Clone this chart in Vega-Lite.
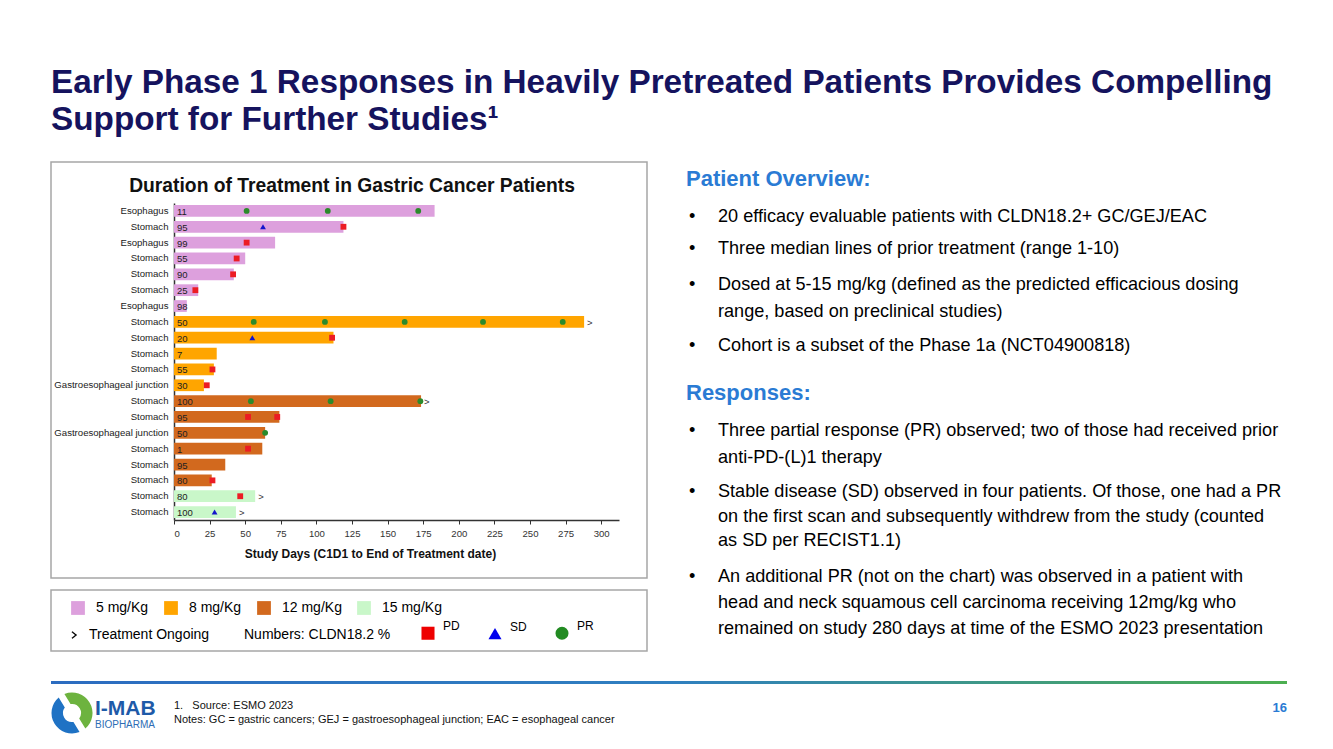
{
  "$schema": "https://vega.github.io/schema/vega-lite/v6.json",
  "padding": {"left": 50, "top": 65, "right": 47, "bottom": 10},
  "background": "white",
  "title": {
    "text": ["Early Phase 1 Responses in Heavily Pretreated Patients Provides Compelling", "Support for Further Studies¹"],
    "anchor": "start", "frame": "group", "fontSize": 33.3, "fontWeight": "bold", "color": "#15135e", "lineHeight": 37, "offset": 24
  },
  "config": {
    "font": "Liberation Sans",
    "view": {"stroke": null},
    "legend": {"padding": 0, "labelFont": "Liberation Sans", "titleFont": "Liberation Sans"},
    "axis": {"labelFont": "Liberation Sans", "titleFont": "Liberation Sans"}
  },
  "datasets": {
    "patients": [
      {"key": "01|Esophagus", "cldn": 11, "dose": "5 mg/Kg", "days": 183, "ongoing": false},
      {"key": "02|Stomach", "cldn": 95, "dose": "5 mg/Kg", "days": 119, "ongoing": false},
      {"key": "03|Esophagus", "cldn": 99, "dose": "5 mg/Kg", "days": 71, "ongoing": false},
      {"key": "04|Stomach", "cldn": 55, "dose": "5 mg/Kg", "days": 50, "ongoing": false},
      {"key": "05|Stomach", "cldn": 90, "dose": "5 mg/Kg", "days": 42, "ongoing": false},
      {"key": "06|Stomach", "cldn": 25, "dose": "5 mg/Kg", "days": 17, "ongoing": false},
      {"key": "07|Esophagus", "cldn": 98, "dose": "5 mg/Kg", "days": 9, "ongoing": false},
      {"key": "08|Stomach", "cldn": 50, "dose": "8 mg/Kg", "days": 288, "ongoing": true},
      {"key": "09|Stomach", "cldn": 20, "dose": "8 mg/Kg", "days": 112, "ongoing": false},
      {"key": "10|Stomach", "cldn": 7, "dose": "8 mg/Kg", "days": 30, "ongoing": false},
      {"key": "11|Stomach", "cldn": 55, "dose": "8 mg/Kg", "days": 28, "ongoing": false},
      {"key": "12|Gastroesophageal junction", "cldn": 30, "dose": "8 mg/Kg", "days": 21, "ongoing": false},
      {"key": "13|Stomach", "cldn": 100, "dose": "12 mg/Kg", "days": 173.5, "ongoing": true},
      {"key": "14|Stomach", "cldn": 95, "dose": "12 mg/Kg", "days": 74, "ongoing": false},
      {"key": "15|Gastroesophageal junction", "cldn": 50, "dose": "12 mg/Kg", "days": 64, "ongoing": false},
      {"key": "16|Stomach", "cldn": 1, "dose": "12 mg/Kg", "days": 62, "ongoing": false},
      {"key": "17|Stomach", "cldn": 95, "dose": "12 mg/Kg", "days": 36, "ongoing": false},
      {"key": "18|Stomach", "cldn": 80, "dose": "12 mg/Kg", "days": 26.5, "ongoing": false},
      {"key": "19|Stomach", "cldn": 80, "dose": "15 mg/Kg", "days": 57, "ongoing": true},
      {"key": "20|Stomach", "cldn": 100, "dose": "15 mg/Kg", "days": 43.5, "ongoing": true}
    ],
    "events": [
      {"key": "01|Esophagus", "day": 51, "type": "PR"},
      {"key": "01|Esophagus", "day": 108, "type": "PR"},
      {"key": "01|Esophagus", "day": 171.5, "type": "PR"},
      {"key": "02|Stomach", "day": 62.5, "type": "SD"},
      {"key": "02|Stomach", "day": 119, "type": "PD"},
      {"key": "03|Esophagus", "day": 51, "type": "PD"},
      {"key": "04|Stomach", "day": 44, "type": "PD"},
      {"key": "05|Stomach", "day": 41.5, "type": "PD"},
      {"key": "06|Stomach", "day": 15, "type": "PD"},
      {"key": "08|Stomach", "day": 56, "type": "PR"},
      {"key": "08|Stomach", "day": 106, "type": "PR"},
      {"key": "08|Stomach", "day": 162, "type": "PR"},
      {"key": "08|Stomach", "day": 217, "type": "PR"},
      {"key": "08|Stomach", "day": 273, "type": "PR"},
      {"key": "09|Stomach", "day": 55, "type": "SD"},
      {"key": "09|Stomach", "day": 111, "type": "PD"},
      {"key": "11|Stomach", "day": 27, "type": "PD"},
      {"key": "12|Gastroesophageal junction", "day": 23, "type": "PD"},
      {"key": "13|Stomach", "day": 54, "type": "PR"},
      {"key": "13|Stomach", "day": 110, "type": "PR"},
      {"key": "13|Stomach", "day": 173, "type": "PR"},
      {"key": "14|Stomach", "day": 52, "type": "PD"},
      {"key": "14|Stomach", "day": 72.5, "type": "PD"},
      {"key": "15|Gastroesophageal junction", "day": 64, "type": "PR"},
      {"key": "16|Stomach", "day": 52, "type": "PD"},
      {"key": "18|Stomach", "day": 27, "type": "PD"},
      {"key": "19|Stomach", "day": 46.5, "type": "PD"},
      {"key": "20|Stomach", "day": 28.5, "type": "SD"}
    ],
    "panel": [
      {"para": 0, "text": "Patient Overview:"},
      {"para": 1, "text": "20 efficacy evaluable patients with CLDN18.2+ GC/GEJ/EAC"},
      {"para": 2, "text": "Three median lines of prior treatment (range 1-10)"},
      {"para": 3, "text": ["Dosed at 5-15 mg/kg (defined as the predicted efficacious dosing", "range, based on preclinical studies)"]},
      {"para": 4, "text": "Cohort is a subset of the Phase 1a (NCT04900818)"},
      {"para": 5, "text": "Responses:"},
      {"para": 6, "text": ["Three partial response (PR) observed; two of those had received prior", "anti-PD-(L)1 therapy"]},
      {"para": 7, "text": ["Stable disease (SD) observed in four patients. Of those, one had a PR", "on the first scan and subsequently withdrew from the study (counted", "as SD per RECIST1.1)"]},
      {"para": 8, "text": ["An additional PR (not on the chart) was observed in a patient with", "head and neck squamous cell carcinoma receiving 12mg/kg who", "remained on study 280 days at time of the ESMO 2023 presentation"]}
    ],
    "footer": [
      {"part": "brand", "text": "I-MAB"},
      {"part": "sub", "text": "BIOPHARMA"},
      {"part": "source", "text": "1.\u00a0\u00a0\u00a0Source: ESMO 2023"},
      {"part": "notes", "text": "Notes: GC = gastric cancers; GEJ = gastroesophageal junction; EAC = esophageal cancer"},
      {"part": "page", "text": "16"}
    ]
  },
  "spacing": 29,
  "resolve": {
    "scale": {"color": "independent", "fill": "independent", "shape": "independent", "strokeDash": "independent"},
    "legend": {"color": "independent", "fill": "independent", "shape": "independent", "strokeDash": "independent"}
  },
  "vconcat": [
    {
      "spacing": 38,
      "resolve": {
        "scale": {"color": "independent", "fill": "independent", "shape": "independent", "strokeDash": "independent"},
        "legend": {"color": "independent", "fill": "independent", "shape": "independent", "strokeDash": "independent"}
      },
      "hconcat": [
        {
          "spacing": 10,
          "resolve": {
            "scale": {"color": "independent", "fill": "independent", "shape": "independent", "strokeDash": "independent"},
            "legend": {"color": "independent", "fill": "independent", "shape": "independent", "strokeDash": "independent"}
          },
          "vconcat": [
            {
              "width": 596,
              "height": 416,
              "view": {"stroke": "#a6a6a6", "strokeWidth": 1.5},
              "title": {"text": "Duration of Treatment in Gastric Cancer Patients", "fontSize": 19.3, "fontWeight": "bold", "color": "#111111", "anchor": "middle", "frame": "group", "offset": -34, "dx": 3},
              "data": {"name": "patients"},
              "encoding": {
                "y": {
                  "field": "key", "type": "nominal", "sort": null,
                  "scale": {
                    "domain": ["01|Esophagus", "02|Stomach", "03|Esophagus", "04|Stomach", "05|Stomach", "06|Stomach", "07|Esophagus", "08|Stomach", "09|Stomach", "10|Stomach", "11|Stomach", "12|Gastroesophageal junction", "13|Stomach", "14|Stomach", "15|Gastroesophageal junction", "16|Stomach", "17|Stomach", "18|Stomach", "19|Stomach", "20|Stomach"],
                    "range": [41, 358], "paddingInner": 0.26, "paddingOuter": 0.13
                  },
                  "axis": {
                    "orient": "left", "offset": -123, "title": null, "ticks": false, "labelPadding": 6,
                    "labelFontSize": 9.6, "labelColor": "#222222", "domainColor": "#333333", "domainWidth": 1.5,
                    "labelExpr": "split(datum.label, '|')[1]", "grid": false, "labelLimit": 200
                  }
                }
              },
              "layer": [
                {
                  "mark": {"type": "bar"},
                  "encoding": {
                    "x": {
                      "field": "days", "type": "quantitative", "title": "Study Days (C1D1 to End of Treatment date)",
                      "scale": {"domain": [0, 312.5], "range": [123, 568], "nice": false},
                      "axis": {
                        "orient": "bottom", "offset": -58, "values": [0, 25, 50, 75, 100, 125, 150, 175, 200, 225, 250, 275, 300],
                        "grid": false, "tickSize": 4, "tickColor": "#333333", "domainColor": "#333333", "domainWidth": 1.5,
                        "labelFontSize": 9.6, "labelPadding": 4, "labelColor": "#333333",
                        "titleFontSize": 12, "titleFontWeight": "bold", "titleColor": "#111111",
                        "titleX": 319, "titleY": 37.5, "titleBaseline": "alphabetic"
                      }
                    },
                    "fill": {
                      "field": "dose", "type": "nominal",
                      "scale": {"domain": ["5 mg/Kg", "8 mg/Kg", "12 mg/Kg", "15 mg/Kg"], "range": ["#dda0dd", "#ffa500", "#d2691e", "#c9f7c9"]},
                      "legend": null
                    }
                  }
                },
                {
                  "mark": {"type": "text", "align": "left", "baseline": "middle", "dx": 3, "dy": 1, "fontSize": 9.5, "color": "#222222"},
                  "encoding": {
                    "x": {"datum": 0, "type": "quantitative"},
                    "text": {"field": "cldn", "type": "quantitative"}
                  }
                },
                {
                  "transform": [{"filter": "datum.ongoing"}],
                  "mark": {"type": "text", "text": ">", "align": "left", "baseline": "middle", "dx": 3, "dy": 1, "fontSize": 9.5, "color": "#333333"},
                  "encoding": {
                    "x": {"field": "days", "type": "quantitative", "title": "Study Days (C1D1 to End of Treatment date)"}
                  }
                },
                {
                  "data": {"name": "events"},
                  "mark": {"type": "point", "filled": true, "size": 34, "opacity": 1},
                  "encoding": {
                    "x": {"field": "day", "type": "quantitative", "title": "Study Days (C1D1 to End of Treatment date)"},
                    "shape": {"field": "type", "type": "nominal", "scale": {"domain": ["PD", "SD", "PR"], "range": ["square", "triangle-up", "circle"]}, "legend": null},
                    "color": {"field": "type", "type": "nominal", "scale": {"domain": ["PD", "SD", "PR"], "range": ["#ec1c24", "#1414cc", "#2b8a2b"]}, "legend": null}
                  }
                }
              ]
            },
            {
              "width": 596,
              "height": 61,
              "view": {"stroke": "#a6a6a6", "strokeWidth": 1.5},
              "layer": [
                {
                  "data": {"values": [{"dose": "5 mg/Kg"}, {"dose": "8 mg/Kg"}, {"dose": "12 mg/Kg"}, {"dose": "15 mg/Kg"}]},
                  "mark": {"type": "point", "filled": true, "opacity": 0},
                  "encoding": {
                    "fill": {
                      "field": "dose", "type": "nominal",
                      "scale": {"domain": ["5 mg/Kg", "8 mg/Kg", "12 mg/Kg", "15 mg/Kg"], "range": ["#dda0dd", "#ffa500", "#d2691e", "#c9f7c9"]},
                      "legend": {
                        "orient": "none", "legendX": 20, "legendY": 11, "direction": "horizontal", "columns": 4, "title": null,
                        "symbolType": "square", "symbolSize": 190, "symbolOpacity": 1, "symbolStrokeWidth": 0,
                        "labelFontSize": 14, "labelOffset": 11, "columnPadding": 15, "labelColor": "#000000"
                      }
                    }
                  }
                },
                {
                  "data": {"values": [{"resp": "PD"}, {"resp": "SD"}, {"resp": "PR"}]},
                  "mark": {"type": "point", "filled": true, "opacity": 0},
                  "encoding": {
                    "color": {
                      "field": "resp", "type": "nominal",
                      "scale": {"domain": ["PD", "SD", "PR"], "range": ["#ee0000", "#0000ee", "#228b22"]},
                      "legend": {
                        "orient": "none", "legendX": 370, "legendY": 36, "direction": "horizontal", "columns": 3, "title": null,
                        "symbolSize": 170, "symbolOpacity": 1, "symbolStrokeWidth": 0,
                        "labelFontSize": 12, "labelOffset": 8, "columnPadding": 28, "labelColor": "#000000", "labelBaseline": "bottom"
                      }
                    },
                    "shape": {
                      "field": "resp", "type": "nominal",
                      "scale": {"domain": ["PD", "SD", "PR"], "range": ["square", "triangle-up", "circle"]},
                      "legend": {
                        "orient": "none", "legendX": 370, "legendY": 36, "direction": "horizontal", "columns": 3, "title": null,
                        "symbolSize": 170, "symbolOpacity": 1, "symbolStrokeWidth": 0,
                        "labelFontSize": 12, "labelOffset": 8, "columnPadding": 28, "labelColor": "#000000", "labelBaseline": "bottom"
                      }
                    }
                  }
                },
                {
                  "data": {"values": [{"ong": "Treatment Ongoing"}]},
                  "mark": {"type": "point", "filled": false, "opacity": 0, "color": "#000000", "shape": "M-0.5,-0.8L0.5,0L-0.5,0.8"},
                  "encoding": {
                    "strokeDash": {
                      "field": "ong", "type": "nominal",
                      "scale": {"domain": ["Treatment Ongoing"], "range": [[1, 0]]},
                      "legend": {
                        "orient": "none", "legendX": 16, "legendY": 38, "direction": "horizontal", "columns": 1,
                        "title": "Numbers: CLDN18.2 %", "titleOrient": "right", "titlePadding": 35, "titleFontSize": 14,
                        "titleFontWeight": "normal", "titleColor": "#000000",
                        "symbolType": "M-0.5,-0.8L0.5,0L-0.5,0.8", "symbolSize": 70, "symbolOpacity": 1,
                        "symbolStrokeColor": "#000000", "symbolFillColor": "transparent", "symbolStrokeWidth": 1.3,
                        "labelFontSize": 14, "labelOffset": 8, "labelColor": "#000000"
                      }
                    }
                  }
                }
              ]
            }
          ]
        },
        {
          "spacing": 0,
          "vconcat": [
            {
              "width": 600, "height": 45, "data": {"name": "panel"}, "transform": [{"filter": "datum.para == 0"}],
              "mark": {"type": "text", "align": "left", "baseline": "top", "dy": 6.6, "fontSize": 22, "fontWeight": "bold", "color": "#2a7bd4"},
              "encoding": {
                "x": {"datum": 0, "type": "quantitative", "scale": {"domain": [0, 1]}, "axis": null},
                "y": {"datum": 1, "type": "quantitative", "scale": {"domain": [0, 1]}, "axis": null},
                "text": {"field": "text"}
              }
            },
            {
              "width": 600, "height": 32, "data": {"name": "panel"}, "transform": [{"filter": "datum.para == 1"}],
              "encoding": {
                "x": {"datum": 0, "type": "quantitative", "scale": {"domain": [0, 1]}, "axis": null},
                "y": {"datum": 1, "type": "quantitative", "scale": {"domain": [0, 1]}, "axis": null}
              },
              "layer": [
                {"mark": {"type": "text", "text": "•", "align": "left", "baseline": "top", "dx": 3, "dy": 1, "fontSize": 18.1, "color": "#000000"}},
                {"mark": {"type": "text", "align": "left", "baseline": "top", "dx": 32, "dy": 1, "fontSize": 18.1, "color": "#000000"}, "encoding": {"text": {"field": "text"}}}
              ]
            },
            {
              "width": 600, "height": 36, "data": {"name": "panel"}, "transform": [{"filter": "datum.para == 2"}],
              "encoding": {
                "x": {"datum": 0, "type": "quantitative", "scale": {"domain": [0, 1]}, "axis": null},
                "y": {"datum": 1, "type": "quantitative", "scale": {"domain": [0, 1]}, "axis": null}
              },
              "layer": [
                {"mark": {"type": "text", "text": "•", "align": "left", "baseline": "top", "dx": 3, "dy": 1, "fontSize": 18.1, "color": "#000000"}},
                {"mark": {"type": "text", "align": "left", "baseline": "top", "dx": 32, "dy": 1, "fontSize": 18.1, "color": "#000000"}, "encoding": {"text": {"field": "text"}}}
              ]
            },
            {
              "width": 600, "height": 61, "data": {"name": "panel"}, "transform": [{"filter": "datum.para == 3"}],
              "encoding": {
                "x": {"datum": 0, "type": "quantitative", "scale": {"domain": [0, 1]}, "axis": null},
                "y": {"datum": 1, "type": "quantitative", "scale": {"domain": [0, 1]}, "axis": null}
              },
              "layer": [
                {"mark": {"type": "text", "text": "•", "align": "left", "baseline": "top", "dx": 3, "dy": 1, "fontSize": 18.1, "color": "#000000"}},
                {"mark": {"type": "text", "align": "left", "baseline": "top", "dx": 32, "dy": 1, "fontSize": 18.1, "lineHeight": 27, "color": "#000000"}, "encoding": {"text": {"field": "text"}}}
              ]
            },
            {
              "width": 600, "height": 40, "data": {"name": "panel"}, "transform": [{"filter": "datum.para == 4"}],
              "encoding": {
                "x": {"datum": 0, "type": "quantitative", "scale": {"domain": [0, 1]}, "axis": null},
                "y": {"datum": 1, "type": "quantitative", "scale": {"domain": [0, 1]}, "axis": null}
              },
              "layer": [
                {"mark": {"type": "text", "text": "•", "align": "left", "baseline": "top", "dx": 3, "dy": 1, "fontSize": 18.1, "color": "#000000"}},
                {"mark": {"type": "text", "align": "left", "baseline": "top", "dx": 32, "dy": 1, "fontSize": 18.1, "color": "#000000"}, "encoding": {"text": {"field": "text"}}}
              ]
            },
            {
              "width": 600, "height": 45, "data": {"name": "panel"}, "transform": [{"filter": "datum.para == 5"}],
              "mark": {"type": "text", "align": "left", "baseline": "top", "dy": 6.6, "fontSize": 22, "fontWeight": "bold", "color": "#2a7bd4"},
              "encoding": {
                "x": {"datum": 0, "type": "quantitative", "scale": {"domain": [0, 1]}, "axis": null},
                "y": {"datum": 1, "type": "quantitative", "scale": {"domain": [0, 1]}, "axis": null},
                "text": {"field": "text"}
              }
            },
            {
              "width": 600, "height": 61, "data": {"name": "panel"}, "transform": [{"filter": "datum.para == 6"}],
              "encoding": {
                "x": {"datum": 0, "type": "quantitative", "scale": {"domain": [0, 1]}, "axis": null},
                "y": {"datum": 1, "type": "quantitative", "scale": {"domain": [0, 1]}, "axis": null}
              },
              "layer": [
                {"mark": {"type": "text", "text": "•", "align": "left", "baseline": "top", "dx": 3, "dy": 1, "fontSize": 18.1, "color": "#000000"}},
                {"mark": {"type": "text", "align": "left", "baseline": "top", "dx": 32, "dy": 1, "fontSize": 18.1, "lineHeight": 26.5, "color": "#000000"}, "encoding": {"text": {"field": "text"}}}
              ]
            },
            {
              "width": 600, "height": 85, "data": {"name": "panel"}, "transform": [{"filter": "datum.para == 7"}],
              "encoding": {
                "x": {"datum": 0, "type": "quantitative", "scale": {"domain": [0, 1]}, "axis": null},
                "y": {"datum": 1, "type": "quantitative", "scale": {"domain": [0, 1]}, "axis": null}
              },
              "layer": [
                {"mark": {"type": "text", "text": "•", "align": "left", "baseline": "top", "dx": 3, "dy": 1, "fontSize": 18.1, "color": "#000000"}},
                {"mark": {"type": "text", "align": "left", "baseline": "top", "dx": 32, "dy": 1, "fontSize": 18.1, "lineHeight": 24.5, "color": "#000000"}, "encoding": {"text": {"field": "text"}}}
              ]
            },
            {
              "width": 600, "height": 75, "data": {"name": "panel"}, "transform": [{"filter": "datum.para == 8"}],
              "encoding": {
                "x": {"datum": 0, "type": "quantitative", "scale": {"domain": [0, 1]}, "axis": null},
                "y": {"datum": 1, "type": "quantitative", "scale": {"domain": [0, 1]}, "axis": null}
              },
              "layer": [
                {"mark": {"type": "text", "text": "•", "align": "left", "baseline": "top", "dx": 3, "dy": 1, "fontSize": 18.1, "color": "#000000"}},
                {"mark": {"type": "text", "align": "left", "baseline": "top", "dx": 32, "dy": 1, "fontSize": 18.1, "lineHeight": 26, "color": "#000000"}, "encoding": {"text": {"field": "text"}}}
              ]
            }
          ]
        }
      ]
    },
    {
      "spacing": 7,
      "resolve": {
        "scale": {"color": "independent", "fill": "independent", "shape": "independent", "strokeDash": "independent"},
        "legend": {"color": "independent", "fill": "independent", "shape": "independent", "strokeDash": "independent"}
      },
      "vconcat": [
        {
          "width": 1236, "height": 3,
          "data": {"values": [{"part": "divider"}]},
          "mark": {"type": "rect", "color": {"gradient": "linear", "x1": 0, "x2": 1, "y1": 0, "y2": 0, "stops": [{"offset": 0, "color": "#2c6cc0"}, {"offset": 0.5, "color": "#2f7fc0"}, {"offset": 1, "color": "#4caf50"}]}},
          "encoding": {
            "x": {"datum": 0, "type": "quantitative", "scale": {"domain": [0, 1]}, "axis": null},
            "x2": {"datum": 1},
            "y": {"datum": 0, "type": "quantitative", "scale": {"domain": [0, 1]}, "axis": null},
            "y2": {"datum": 1}
          }
        },
        {
          "spacing": 0,
          "resolve": {
            "scale": {"color": "independent", "fill": "independent", "shape": "independent", "strokeDash": "independent"},
            "legend": {"color": "independent", "fill": "independent", "shape": "independent", "strokeDash": "independent"}
          },
          "hconcat": [
            {
              "width": 42, "height": 44,
              "data": {"values": [{"part": "green", "v": 1}, {"part": "blue", "v": 1}]},
              "mark": {"type": "arc", "outerRadius": 20.5, "innerRadius": 9, "padAngle": 0.3},
              "encoding": {
                "theta": {"field": "v", "type": "quantitative", "stack": true, "scale": {"range": [2.6, 8.88]}},
                "color": {"field": "part", "type": "nominal", "scale": {"domain": ["blue", "green"], "range": ["#1f72c4", "#6db33f"]}, "legend": null}
              }
            },
            {
              "width": 78, "height": 44,
              "data": {"name": "footer"},
              "encoding": {
                "x": {"datum": 0, "type": "quantitative", "scale": {"domain": [0, 1]}, "axis": null},
                "y": {"datum": 1, "type": "quantitative", "scale": {"domain": [0, 1]}, "axis": null},
                "text": {"field": "text"}
              },
              "layer": [
                {"transform": [{"filter": "datum.part == 'brand'"}], "mark": {"type": "text", "align": "left", "baseline": "alphabetic", "dx": 2, "dy": 24, "fontSize": 21, "fontWeight": "bold", "color": "#1e5aa8"}},
                {"transform": [{"filter": "datum.part == 'sub'"}], "mark": {"type": "text", "align": "left", "baseline": "alphabetic", "dx": 2, "dy": 37, "fontSize": 10, "color": "#2c6db5"}}
              ]
            },
            {
              "width": 1000, "height": 44,
              "data": {"name": "footer"},
              "encoding": {
                "x": {"datum": 0, "type": "quantitative", "scale": {"domain": [0, 1]}, "axis": null},
                "y": {"datum": 1, "type": "quantitative", "scale": {"domain": [0, 1]}, "axis": null},
                "text": {"field": "text"}
              },
              "layer": [
                {"transform": [{"filter": "datum.part == 'source'"}], "mark": {"type": "text", "align": "left", "baseline": "alphabetic", "dx": 3, "dy": 18, "fontSize": 11, "color": "#111111"}},
                {"transform": [{"filter": "datum.part == 'notes'"}], "mark": {"type": "text", "align": "left", "baseline": "alphabetic", "dx": 3, "dy": 32, "fontSize": 11, "color": "#111111"}}
              ]
            },
            {
              "width": 116, "height": 44,
              "data": {"name": "footer"},
              "transform": [{"filter": "datum.part == 'page'"}],
              "mark": {"type": "text", "align": "right", "baseline": "alphabetic", "dy": 21, "fontSize": 13, "fontWeight": "bold", "color": "#2a7bd4"},
              "encoding": {
                "x": {"datum": 1, "type": "quantitative", "scale": {"domain": [0, 1]}, "axis": null},
                "y": {"datum": 1, "type": "quantitative", "scale": {"domain": [0, 1]}, "axis": null},
                "text": {"field": "text"}
              }
            }
          ]
        }
      ]
    }
  ]
}
